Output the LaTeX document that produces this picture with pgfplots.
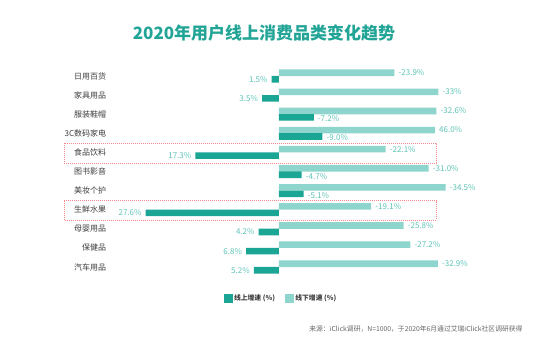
\documentclass[border=0pt]{standalone}
\usepackage{fontspec}
\setmainfont{Noto Sans CJK SC}
\usepackage{pgfplots}
\pgfplotsset{compat=1.18}
\definecolor{darkT}{HTML}{1AA595}
\definecolor{lightT}{HTML}{8ED5CD}
\definecolor{lab}{HTML}{5CC3B7}
\definecolor{titleC}{HTML}{22A596}
\definecolor{boxR}{HTML}{F08A8A}
\definecolor{catC}{HTML}{3C3C3C}
\begin{document}
\begin{tikzpicture}
\begin{axis}[
  width=554pt, height=350pt, scale only axis,
  xmin=-57.76, xmax=56.94,
  ymin=-3.979, ymax=14.346, y dir=reverse,
  axis line style={draw=none}, tick style={draw=none},
  xbar, bar width=6.6pt, bar shift=0pt,
  clip=false,
  xtick=\empty,
  ytick={0,...,10},
  yticklabels={日用百货,家具用品,服装鞋帽,3C数码家电,食品饮料,图书影音,美妆个护,生鲜水果,母婴用品,保健品,汽车用品},
  yticklabel style={anchor=east, xshift=114pt, font=\fontsize{8}{9}\selectfont, text=catC},
  nodes near coords, point meta=explicit symbolic,
  every node near coord/.append style={font=\fontsize{8}{9}\selectfont, text=lab, inner sep=1pt},
  legend style={at={(axis description cs:0.398,0.149)}, anchor=west, draw=none, fill=none,
    legend columns=2, font=\bfseries\fontsize{6.8}{8}\selectfont, text=catC,
    /tikz/every even column/.append style={column sep=8pt}},
]
\addplot[fill=lightT, draw=none, forget plot,
  every node near coord/.append style={anchor=west, xshift=3pt}] coordinates {
  (23.9,-0.17)[-23.9\%] (33,0.83)[-33\%] (32.6,1.83)[-32.6\%] (32.3,2.83)[46.0\%]
  (22.1,3.83)[-22.1\%] (31.0,4.83)[-31.0\%] (34.5,5.83)[-34.5\%] (19.1,6.83)[-19.1\%]
  (25.8,7.83)[-25.8\%] (27.2,8.83)[-27.2\%] (32.9,9.83)[-32.9\%]};
\addplot[fill=darkT, draw=none, forget plot,
  every node near coord/.append style={anchor=east, xshift=-3pt}] coordinates {
  (-1.5,0.17)[1.5\%] (-3.5,1.17)[3.5\%] (-17.3,4.17)[17.3\%] (-27.6,7.17)[27.6\%]
  (-4.2,8.17)[4.2\%] (-6.8,9.17)[6.8\%] (-5.2,10.17)[5.2\%]};
\addplot[fill=darkT, draw=none, forget plot,
  every node near coord/.append style={anchor=west, xshift=3pt, yshift=-1.5pt}] coordinates {
  (7.2,2.17)[-7.2\%] (9.0,3.17)[-9.0\%] (4.7,5.17)[-4.7\%] (5.1,6.17)[-5.1\%]};
\addlegendimage{legend image code/.code={\fill[darkT] (0pt,-4pt) rectangle (8pt,4pt);}}
\addlegendentry{线上增速 (\%)}
\addlegendimage{legend image code/.code={\fill[lightT] (0pt,-4pt) rectangle (8pt,4pt);}}
\addlegendentry{线下增速 (\%)}
\draw[boxR, line width=0.6pt, dash pattern=on 1pt off 1pt] (rel axis cs:64/554,1-143.3/350) rectangle (rel axis cs:436/554,1-163.3/350);
\draw[boxR, line width=0.6pt, dash pattern=on 1pt off 1pt] (rel axis cs:64/554,1-200.7/350) rectangle (rel axis cs:436/554,1-220/350);
\node[font=\bfseries\fontsize{17}{20}\selectfont, text=titleC] at (rel axis cs:264/554,1-33/350) {2020年用户线上消费品类变化趋势};
\node[anchor=east, font=\fontsize{6.8}{8}\selectfont, text=black!60] at (rel axis cs:526/554,1-329/350) {来源：iClick调研，N=1000，于2020年6月通过艾瑞iClick社区调研获得};
\coordinate (TL) at (rel axis cs:0,0);
\coordinate (BR) at (rel axis cs:1,1);
\end{axis}
\pgfresetboundingbox
\path[use as bounding box] (TL) rectangle (BR);
\end{tikzpicture}
\end{document}
